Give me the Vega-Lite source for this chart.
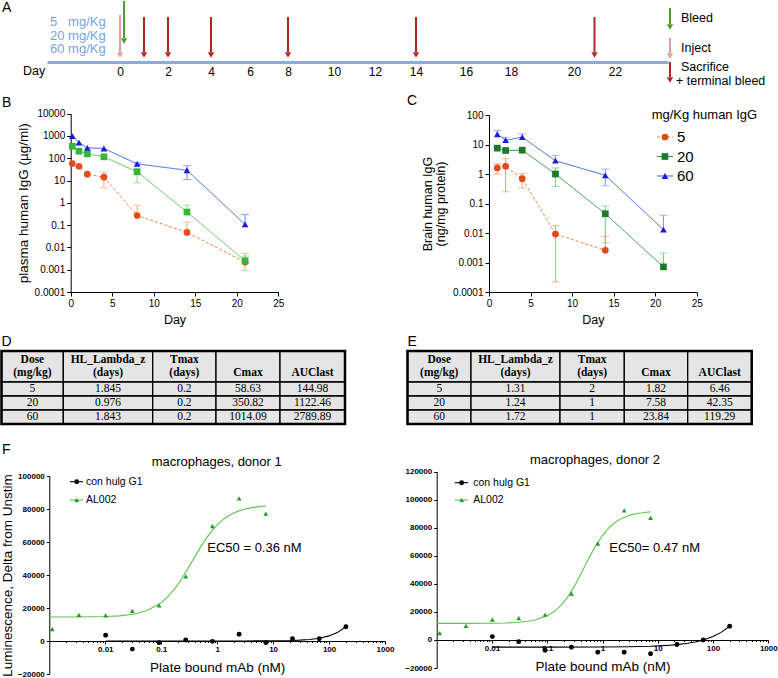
{
"$schema": "https://vega.github.io/schema/vega-lite/v6.json",
"padding": 0,
"background": "#ffffff",
"columns": 2,
"bounds": "flush",
"align": {"row": "each", "column": "none"},
"spacing": {"row": 10, "column": 0},
"resolve": {"scale": {"color": "independent", "fill": "independent", "stroke": "independent", "shape": "independent", "strokeDash": "independent"}},
"config": {
  "font": "Liberation Sans",
  "view": {"stroke": null},
  "axis": {"grid": false, "domainColor": "#000000", "tickColor": "#000000", "labelColor": "#000000", "titleColor": "#000000", "titleFontWeight": "normal", "labelFlush": false, "labelOverlap": false, "domainWidth": 1, "tickWidth": 1, "tickCount": 100},
  "title": {"fontWeight": "normal", "fontSize": 13, "color": "#000000"}
},
"datasets": {
  "sacrifice": [{"day":1},{"day":2},{"day":4},{"day":8},{"day":14},{"day":21}],
  "inject": [{"event":"Inject","day":0}],
  "bleed": [{"event":"Bleed","day":0}],
  "plasma": [
    {"dose":"5","day":0.2,"mean":57.5},{"dose":"5","day":1,"mean":43.6},{"dose":"5","day":2,"mean":19.3},{"dose":"5","day":4,"mean":14.1},{"dose":"5","day":8,"mean":0.27},{"dose":"5","day":14,"mean":0.047},{"dose":"5","day":21,"mean":0.0022},
    {"dose":"20","day":0.2,"mean":342},{"dose":"20","day":1,"mean":207},{"dose":"20","day":2,"mean":157},{"dose":"20","day":4,"mean":115},{"dose":"20","day":8,"mean":24.6},{"dose":"20","day":14,"mean":0.385},{"dose":"20","day":21,"mean":0.0025},
    {"dose":"60","day":0.2,"mean":980},{"dose":"60","day":1,"mean":500},{"dose":"60","day":2,"mean":292},{"dose":"60","day":4,"mean":273},{"dose":"60","day":8,"mean":55.5},{"dose":"60","day":14,"mean":28.8},{"dose":"60","day":21,"mean":0.107}
  ],
  "plasmaErr": [
    {"dose":"5","day":4,"from":14.1,"to":23.8},{"dose":"5","day":4,"from":14.1,"to":4.7},{"dose":"5","day":8,"from":0.27,"to":0.78},{"dose":"5","day":14,"from":0.047,"to":0.136},{"dose":"5","day":21,"from":0.0022,"to":0.0054},
    {"dose":"20","day":8,"from":24.6,"to":36},{"dose":"20","day":8,"from":24.6,"to":7.9},{"dose":"20","day":14,"from":0.385,"to":0.79},{"dose":"20","day":21,"from":0.0025,"to":0.0041},{"dose":"20","day":21,"from":0.0025,"to":0.0009},
    {"dose":"60","day":8,"from":55.5,"to":64},{"dose":"60","day":14,"from":28.8,"to":46.6},{"dose":"60","day":14,"from":28.8,"to":11.1},{"dose":"60","day":21,"from":0.107,"to":0.30}
  ],
  "brain": [
    {"dose":"5","day":1,"mean":1.6},{"dose":"5","day":2,"mean":1.82},{"dose":"5","day":4,"mean":0.695},{"dose":"5","day":8,"mean":0.0092},{"dose":"5","day":14,"mean":0.0026},
    {"dose":"20","day":1,"mean":7.52},{"dose":"20","day":2,"mean":6.27},{"dose":"20","day":4,"mean":6.43},{"dose":"20","day":8,"mean":1.0},{"dose":"20","day":14,"mean":0.0448},{"dose":"20","day":21,"mean":0.00071},
    {"dose":"60","day":1,"mean":22.3},{"dose":"60","day":2,"mean":14.0},{"dose":"60","day":4,"mean":17.7},{"dose":"60","day":8,"mean":2.82},{"dose":"60","day":14,"mean":0.90},{"dose":"60","day":21,"mean":0.013}
  ],
  "brainErr": [
    {"dose":"5","day":1,"from":1.6,"to":2.24},{"dose":"5","day":1,"from":1.6,"to":1.0},{"dose":"5","day":2,"from":1.82,"to":3.3},{"dose":"5","day":2,"from":1.82,"to":0.25},{"dose":"5","day":4,"from":0.695,"to":1.03},{"dose":"5","day":4,"from":0.695,"to":0.336},{"dose":"5","day":8,"from":0.0092,"to":0.018},{"dose":"5","day":8,"from":0.0092,"to":0.00022},{"dose":"5","day":14,"from":0.0026,"to":0.0077},
    {"dose":"20","day":1,"from":7.52,"to":8.7},{"dose":"20","day":8,"from":1.0,"to":1.6},{"dose":"20","day":8,"from":1.0,"to":0.38},{"dose":"20","day":14,"from":0.0448,"to":0.083},{"dose":"20","day":14,"from":0.0448,"to":0.0046},{"dose":"20","day":21,"from":0.00071,"to":0.0021},
    {"dose":"60","day":1,"from":22.3,"to":29.7},{"dose":"60","day":2,"from":14.0,"to":17.7},{"dose":"60","day":4,"from":17.7,"to":22.9},{"dose":"60","day":8,"from":2.82,"to":4.28},{"dose":"60","day":14,"from":0.90,"to":1.48},{"dose":"60","day":14,"from":0.90,"to":0.40},{"dose":"60","day":21,"from":0.013,"to":0.040}
  ],
  "doseLegend": [{"dose":"5"},{"dose":"20"},{"dose":"60"}],
  "tableD": [
    {"r":0,"r2":1,"rm":0.5,"c":0,"c2":1,"cm":0.5,"t":"Dose\n(mg/kg)"},{"r":0,"r2":1,"rm":0.5,"c":1,"c2":2,"cm":1.5,"t":"HL_Lambda_z\n(days)"},{"r":0,"r2":1,"rm":0.5,"c":2,"c2":3,"cm":2.5,"t":"Tmax\n(days)"},{"r":0,"r2":1,"rm":0.5,"c":3,"c2":4,"cm":3.5,"t":"\nCmax"},{"r":0,"r2":1,"rm":0.5,"c":4,"c2":5,"cm":4.5,"t":"\nAUClast"},
    {"r":1,"r2":2,"rm":1.5,"c":0,"c2":1,"cm":0.5,"t":"5"},{"r":1,"r2":2,"rm":1.5,"c":1,"c2":2,"cm":1.5,"t":"1.845"},{"r":1,"r2":2,"rm":1.5,"c":2,"c2":3,"cm":2.5,"t":"0.2"},{"r":1,"r2":2,"rm":1.5,"c":3,"c2":4,"cm":3.5,"t":"58.63"},{"r":1,"r2":2,"rm":1.5,"c":4,"c2":5,"cm":4.5,"t":"144.98"},
    {"r":2,"r2":3,"rm":2.5,"c":0,"c2":1,"cm":0.5,"t":"20"},{"r":2,"r2":3,"rm":2.5,"c":1,"c2":2,"cm":1.5,"t":"0.976"},{"r":2,"r2":3,"rm":2.5,"c":2,"c2":3,"cm":2.5,"t":"0.2"},{"r":2,"r2":3,"rm":2.5,"c":3,"c2":4,"cm":3.5,"t":"350.82"},{"r":2,"r2":3,"rm":2.5,"c":4,"c2":5,"cm":4.5,"t":"1122.46"},
    {"r":3,"r2":4,"rm":3.5,"c":0,"c2":1,"cm":0.5,"t":"60"},{"r":3,"r2":4,"rm":3.5,"c":1,"c2":2,"cm":1.5,"t":"1.843"},{"r":3,"r2":4,"rm":3.5,"c":2,"c2":3,"cm":2.5,"t":"0.2"},{"r":3,"r2":4,"rm":3.5,"c":3,"c2":4,"cm":3.5,"t":"1014.09"},{"r":3,"r2":4,"rm":3.5,"c":4,"c2":5,"cm":4.5,"t":"2789.89"}
  ],
  "tableE": [
    {"r":0,"r2":1,"rm":0.5,"c":0,"c2":1,"cm":0.5,"t":"Dose\n(mg/kg)"},{"r":0,"r2":1,"rm":0.5,"c":1,"c2":2,"cm":1.5,"t":"HL_Lambda_z\n(days)"},{"r":0,"r2":1,"rm":0.5,"c":2,"c2":3,"cm":2.5,"t":"Tmax\n(days)"},{"r":0,"r2":1,"rm":0.5,"c":3,"c2":4,"cm":3.5,"t":"\nCmax"},{"r":0,"r2":1,"rm":0.5,"c":4,"c2":5,"cm":4.5,"t":"\nAUClast"},
    {"r":1,"r2":2,"rm":1.5,"c":0,"c2":1,"cm":0.5,"t":"5"},{"r":1,"r2":2,"rm":1.5,"c":1,"c2":2,"cm":1.5,"t":"1.31"},{"r":1,"r2":2,"rm":1.5,"c":2,"c2":3,"cm":2.5,"t":"2"},{"r":1,"r2":2,"rm":1.5,"c":3,"c2":4,"cm":3.5,"t":"1.82"},{"r":1,"r2":2,"rm":1.5,"c":4,"c2":5,"cm":4.5,"t":"6.46"},
    {"r":2,"r2":3,"rm":2.5,"c":0,"c2":1,"cm":0.5,"t":"20"},{"r":2,"r2":3,"rm":2.5,"c":1,"c2":2,"cm":1.5,"t":"1.24"},{"r":2,"r2":3,"rm":2.5,"c":2,"c2":3,"cm":2.5,"t":"1"},{"r":2,"r2":3,"rm":2.5,"c":3,"c2":4,"cm":3.5,"t":"7.58"},{"r":2,"r2":3,"rm":2.5,"c":4,"c2":5,"cm":4.5,"t":"42.35"},
    {"r":3,"r2":4,"rm":3.5,"c":0,"c2":1,"cm":0.5,"t":"60"},{"r":3,"r2":4,"rm":3.5,"c":1,"c2":2,"cm":1.5,"t":"1.72"},{"r":3,"r2":4,"rm":3.5,"c":2,"c2":3,"cm":2.5,"t":"1"},{"r":3,"r2":4,"rm":3.5,"c":3,"c2":4,"cm":3.5,"t":"23.84"},{"r":3,"r2":4,"rm":3.5,"c":4,"c2":5,"cm":4.5,"t":"119.29"}
  ],
  "seriesLegend": [{"series":"con hulg G1"},{"series":"AL002"}],
  "f1pts": [
    {"series":"AL002","conc":0.001129,"lum":7200},{"series":"AL002","conc":0.003387,"lum":15800},{"series":"AL002","conc":0.01016,"lum":15600},{"series":"AL002","conc":0.03048,"lum":18300},{"series":"AL002","conc":0.09145,"lum":21600},{"series":"AL002","conc":0.2743,"lum":39200},{"series":"AL002","conc":0.823,"lum":69600},{"series":"AL002","conc":2.469,"lum":86400},{"series":"AL002","conc":7.407,"lum":77200},
    {"series":"con hulg G1","conc":0.01016,"lum":3500},{"series":"con hulg G1","conc":0.03048,"lum":-4900},{"series":"con hulg G1","conc":0.09145,"lum":-1000},{"series":"con hulg G1","conc":0.2743,"lum":600},{"series":"con hulg G1","conc":0.823,"lum":-200},{"series":"con hulg G1","conc":2.469,"lum":4100},{"series":"con hulg G1","conc":7.407,"lum":-1000},{"series":"con hulg G1","conc":22.22,"lum":1400},{"series":"con hulg G1","conc":66.67,"lum":1400},{"series":"con hulg G1","conc":200,"lum":8600}
  ],
  "f1fit": [
    {"series":"AL002","conc":0.001,"lum":14510},{"series":"AL002","conc":0.003162,"lum":14556},{"series":"AL002","conc":0.01,"lum":14813},{"series":"AL002","conc":0.01778,"lum":15238},{"series":"AL002","conc":0.03162,"lum":16226},{"series":"AL002","conc":0.05623,"lum":18453},{"series":"AL002","conc":0.1,"lum":23184},{"series":"AL002","conc":0.1334,"lum":27005},{"series":"AL002","conc":0.1778,"lum":32024},{"series":"AL002","conc":0.2371,"lum":38191},{"series":"AL002","conc":0.3162,"lum":45209},{"series":"AL002","conc":0.4217,"lum":52512},{"series":"AL002","conc":0.5623,"lum":59468},{"series":"AL002","conc":0.7499,"lum":65527},{"series":"AL002","conc":1,"lum":70423},{"series":"AL002","conc":1.3335,"lum":74136},{"series":"AL002","conc":1.7783,"lum":76822},{"series":"AL002","conc":2.3714,"lum":78706},{"series":"AL002","conc":3.1623,"lum":79984},{"series":"AL002","conc":4.217,"lum":80848},{"series":"AL002","conc":5.6234,"lum":81419},{"series":"AL002","conc":7.413,"lum":81779},
    {"series":"con hulg G1","conc":0.01016,"lum":0},{"series":"con hulg G1","conc":0.1,"lum":0},{"series":"con hulg G1","conc":1,"lum":3},{"series":"con hulg G1","conc":3,"lum":17},{"series":"con hulg G1","conc":10,"lum":102},{"series":"con hulg G1","conc":20,"lum":283},{"series":"con hulg G1","conc":30,"lum":521},{"series":"con hulg G1","conc":45,"lum":951},{"series":"con hulg G1","conc":66.67,"lum":1709},{"series":"con hulg G1","conc":100,"lum":3087},{"series":"con hulg G1","conc":140,"lum":5084},{"series":"con hulg G1","conc":200,"lum":8600}
  ],
  "f2pts": [
    {"series":"AL002","conc":0.001129,"lum":4800},{"series":"AL002","conc":0.003387,"lum":10000},{"series":"AL002","conc":0.01016,"lum":14500},{"series":"AL002","conc":0.03048,"lum":15500},{"series":"AL002","conc":0.09145,"lum":18100},{"series":"AL002","conc":0.2743,"lum":33100},{"series":"AL002","conc":0.823,"lum":68600},{"series":"AL002","conc":2.469,"lum":92400},{"series":"AL002","conc":7.407,"lum":87100},
    {"series":"con hulg G1","conc":0.01016,"lum":2400},{"series":"con hulg G1","conc":0.03048,"lum":-1200},{"series":"con hulg G1","conc":0.09145,"lum":-7400},{"series":"con hulg G1","conc":0.2743,"lum":-5200},{"series":"con hulg G1","conc":0.823,"lum":-8800},{"series":"con hulg G1","conc":2.469,"lum":-8800},{"series":"con hulg G1","conc":7.407,"lum":-9800},{"series":"con hulg G1","conc":22.22,"lum":-3300},{"series":"con hulg G1","conc":66.67,"lum":0},{"series":"con hulg G1","conc":200,"lum":9800}
  ],
  "f2fit": [
    {"series":"AL002","conc":0.001,"lum":11802},{"series":"AL002","conc":0.003162,"lum":11816},{"series":"AL002","conc":0.01,"lum":11915},{"series":"AL002","conc":0.01778,"lum":12105},{"series":"AL002","conc":0.03162,"lum":12608},{"series":"AL002","conc":0.05623,"lum":13914},{"series":"AL002","conc":0.1,"lum":17188},{"series":"AL002","conc":0.1334,"lum":20231},{"series":"AL002","conc":0.1778,"lum":24697},{"series":"AL002","conc":0.2371,"lum":30897},{"series":"AL002","conc":0.3162,"lum":38883},{"series":"AL002","conc":0.4217,"lum":48213},{"series":"AL002","conc":0.5623,"lum":57971},{"series":"AL002","conc":0.7499,"lum":67042},{"series":"AL002","conc":1,"lum":74605},{"series":"AL002","conc":1.3335,"lum":80355},{"series":"AL002","conc":1.7783,"lum":84437},{"series":"AL002","conc":2.3714,"lum":87188},{"series":"AL002","conc":3.1623,"lum":88977},{"series":"AL002","conc":4.217,"lum":90123},{"series":"AL002","conc":5.6234,"lum":90837},{"series":"AL002","conc":7.413,"lum":91270},
    {"series":"con hulg G1","conc":0.01016,"lum":-5100},{"series":"con hulg G1","conc":0.1,"lum":-5092},{"series":"con hulg G1","conc":1,"lum":-5015},{"series":"con hulg G1","conc":3,"lum":-4852},{"series":"con hulg G1","conc":7.4,"lum":-4502},{"series":"con hulg G1","conc":15,"lum":-3907},{"series":"con hulg G1","conc":22.22,"lum":-3350},{"series":"con hulg G1","conc":35,"lum":-2380},{"series":"con hulg G1","conc":50,"lum":-1258},{"series":"con hulg G1","conc":66.67,"lum":0},{"series":"con hulg G1","conc":100,"lum":2473},{"series":"con hulg G1","conc":140,"lum":5380},{"series":"con hulg G1","conc":200,"lum":9800}
  ]
},
"concat": [
  {
    "width": 407, "height": 104,
    "data": {"name": "sacrifice"},
    "layer": [
      {"mark": {"type": "rule", "color": "#b0281c", "strokeWidth": 2},
       "encoding": {
         "x": {"field": "day", "type": "quantitative", "scale": {"domain": [-3.04,0,2,4,6,8,10,12,14,16,18,20,22,24.59], "range": [47,120,168,211,250,288,334,375,416,466,511,574,615,668], "nice": false, "zero": false},
               "axis": {"orient": "bottom", "offset": -42, "values": [0,2,4,6,8,10,12,14,16,18,20,22], "format": "d", "tickCount": 100, "domainColor": "#8eaadb", "domainWidth": 3, "ticks": false, "labelFontSize": 12, "labelPadding": 4, "title": null}},
         "y": {"datum": 17, "type": "quantitative", "scale": {"domain": [0,104], "reverse": true, "nice": false, "zero": false}, "axis": null},
         "y2": {"datum": 52}}},
      {"mark": {"type": "point", "shape": "triangle-down", "filled": true, "color": "#b0281c", "size": 40, "opacity": 1},
       "encoding": {
         "x": {"field": "day", "type": "quantitative", "scale": {"domain": [-3.04,0,2,4,6,8,10,12,14,16,18,20,22,24.59], "range": [47,120,168,211,250,288,334,375,416,466,511,574,615,668], "nice": false, "zero": false}},
         "y": {"datum": 55, "type": "quantitative", "scale": {"domain": [0,104], "reverse": true, "nice": false, "zero": false}}}},
      {"data": {"name": "inject"}, "mark": {"type": "rule", "color": "#dca0a7", "strokeWidth": 2},
       "encoding": {
         "x": {"field": "day", "type": "quantitative", "scale": {"domain": [-3.04,0,2,4,6,8,10,12,14,16,18,20,22,24.59], "range": [47,120,168,211,250,288,334,375,416,466,511,574,615,668], "nice": false, "zero": false}},
         "y": {"datum": 15, "type": "quantitative", "scale": {"domain": [0,104], "reverse": true, "nice": false, "zero": false}},
         "y2": {"datum": 52}}},
      {"data": {"name": "inject"}, "mark": {"type": "point", "shape": "triangle-down", "filled": true, "color": "#dca0a7", "size": 40, "opacity": 1},
       "encoding": {
         "x": {"field": "day", "type": "quantitative", "scale": {"domain": [-3.04,0,2,4,6,8,10,12,14,16,18,20,22,24.59], "range": [47,120,168,211,250,288,334,375,416,466,511,574,615,668], "nice": false, "zero": false}},
         "y": {"datum": 55, "type": "quantitative", "scale": {"domain": [0,104], "reverse": true, "nice": false, "zero": false}}}},
      {"data": {"name": "bleed"}, "mark": {"type": "rule", "color": "#4e9a2b", "strokeWidth": 2},
       "encoding": {
         "x": {"datum": 0.17, "type": "quantitative", "scale": {"domain": [-3.04,0,2,4,6,8,10,12,14,16,18,20,22,24.59], "range": [47,120,168,211,250,288,334,375,416,466,511,574,615,668], "nice": false, "zero": false}},
         "y": {"datum": 1, "type": "quantitative", "scale": {"domain": [0,104], "reverse": true, "nice": false, "zero": false}},
         "y2": {"datum": 38}}},
      {"data": {"name": "bleed"}, "mark": {"type": "point", "shape": "triangle-down", "filled": true, "color": "#4e9a2b", "size": 40, "opacity": 1},
       "encoding": {
         "x": {"datum": 0.17, "type": "quantitative", "scale": {"domain": [-3.04,0,2,4,6,8,10,12,14,16,18,20,22,24.59], "range": [47,120,168,211,250,288,334,375,416,466,511,574,615,668], "nice": false, "zero": false}},
         "y": {"datum": 41, "type": "quantitative", "scale": {"domain": [0,104], "reverse": true, "nice": false, "zero": false}}}},
      {"data": {"values": [{}]}, "mark": {"type": "text", "align": "left", "baseline": "middle", "fontSize": 13, "color": "#7c9fe2", "lineHeight": 13.5},
       "encoding": {
         "x": {"datum": -2.915, "type": "quantitative", "scale": {"domain": [-3.04,0,2,4,6,8,10,12,14,16,18,20,22,24.59], "range": [47,120,168,211,250,288,334,375,416,466,511,574,615,668], "nice": false, "zero": false}},
         "y": {"datum": 22, "type": "quantitative", "scale": {"domain": [0,104], "reverse": true, "nice": false, "zero": false}},
         "text": {"value": ["5\u00a0\u00a0\u00a0mg/Kg", "20 mg/Kg", "60 mg/Kg"]}}},
      {"data": {"values": [{}]}, "mark": {"type": "text", "align": "left", "baseline": "middle", "fontSize": 12.5, "text": "Day"},
       "encoding": {
         "x": {"datum": -4.04, "type": "quantitative", "scale": {"domain": [-3.04,0,2,4,6,8,10,12,14,16,18,20,22,24.59], "range": [47,120,168,211,250,288,334,375,416,466,511,574,615,668], "nice": false, "zero": false}},
         "y": {"datum": 71, "type": "quantitative", "scale": {"domain": [0,104], "reverse": true, "nice": false, "zero": false}}}},
      {"data": {"values": [{}]}, "mark": {"type": "text", "align": "left", "baseline": "middle", "fontSize": 14, "text": "A"},
       "encoding": {
         "x": {"datum": -4.915, "type": "quantitative", "scale": {"domain": [-3.04,0,2,4,6,8,10,12,14,16,18,20,22,24.59], "range": [47,120,168,211,250,288,334,375,416,466,511,574,615,668], "nice": false, "zero": false}},
         "y": {"datum": 7.5, "type": "quantitative", "scale": {"domain": [0,104], "reverse": true, "nice": false, "zero": false}}}}
    ]
  },
  {
    "width": 371, "height": 104,
    "data": {"values": [{}]},
    "layer": [
      {"mark": {"type": "rule", "color": "#4e9a2b", "strokeWidth": 2},
       "encoding": {"x": {"datum": 0.7089, "type": "quantitative", "scale": {"domain": [0,1], "nice": false, "zero": false}, "axis": null}, "y": {"datum": 8, "type": "quantitative", "scale": {"domain": [0,104], "reverse": true, "nice": false, "zero": false}, "axis": null}, "y2": {"datum": 24}}},
      {"mark": {"type": "point", "shape": "triangle-down", "filled": true, "color": "#4e9a2b", "size": 40, "opacity": 1},
       "encoding": {"x": {"datum": 0.7089, "type": "quantitative", "scale": {"domain": [0,1], "nice": false, "zero": false}}, "y": {"datum": 27, "type": "quantitative", "scale": {"domain": [0,104], "reverse": true, "nice": false, "zero": false}}}},
      {"mark": {"type": "rule", "color": "#dca0a7", "strokeWidth": 2},
       "encoding": {"x": {"datum": 0.7089, "type": "quantitative", "scale": {"domain": [0,1], "nice": false, "zero": false}}, "y": {"datum": 38, "type": "quantitative", "scale": {"domain": [0,104], "reverse": true, "nice": false, "zero": false}}, "y2": {"datum": 53}}},
      {"mark": {"type": "point", "shape": "triangle-down", "filled": true, "color": "#dca0a7", "size": 40, "opacity": 1},
       "encoding": {"x": {"datum": 0.7089, "type": "quantitative", "scale": {"domain": [0,1], "nice": false, "zero": false}}, "y": {"datum": 56, "type": "quantitative", "scale": {"domain": [0,104], "reverse": true, "nice": false, "zero": false}}}},
      {"mark": {"type": "rule", "color": "#b0281c", "strokeWidth": 2},
       "encoding": {"x": {"datum": 0.7089, "type": "quantitative", "scale": {"domain": [0,1], "nice": false, "zero": false}}, "y": {"datum": 62, "type": "quantitative", "scale": {"domain": [0,104], "reverse": true, "nice": false, "zero": false}}, "y2": {"datum": 77}}},
      {"mark": {"type": "point", "shape": "triangle-down", "filled": true, "color": "#b0281c", "size": 40, "opacity": 1},
       "encoding": {"x": {"datum": 0.7089, "type": "quantitative", "scale": {"domain": [0,1], "nice": false, "zero": false}}, "y": {"datum": 80, "type": "quantitative", "scale": {"domain": [0,104], "reverse": true, "nice": false, "zero": false}}}},
      {"mark": {"type": "text", "align": "left", "baseline": "middle", "fontSize": 12.5, "text": "Bleed"},
       "encoding": {"x": {"datum": 0.7385, "type": "quantitative", "scale": {"domain": [0,1], "nice": false, "zero": false}}, "y": {"datum": 18, "type": "quantitative", "scale": {"domain": [0,104], "reverse": true, "nice": false, "zero": false}}}},
      {"mark": {"type": "text", "align": "left", "baseline": "middle", "fontSize": 12.5, "text": "Inject"},
       "encoding": {"x": {"datum": 0.7385, "type": "quantitative", "scale": {"domain": [0,1], "nice": false, "zero": false}}, "y": {"datum": 48, "type": "quantitative", "scale": {"domain": [0,104], "reverse": true, "nice": false, "zero": false}}}},
      {"mark": {"type": "text", "align": "left", "baseline": "middle", "fontSize": 12.5, "text": "Sacrifice"},
       "encoding": {"x": {"datum": 0.7385, "type": "quantitative", "scale": {"domain": [0,1], "nice": false, "zero": false}}, "y": {"datum": 66.5, "type": "quantitative", "scale": {"domain": [0,104], "reverse": true, "nice": false, "zero": false}}}},
      {"mark": {"type": "text", "align": "left", "baseline": "middle", "fontSize": 12.5, "text": "+ terminal bleed"},
       "encoding": {"x": {"datum": 0.7251, "type": "quantitative", "scale": {"domain": [0,1], "nice": false, "zero": false}}, "y": {"datum": 80.5, "type": "quantitative", "scale": {"domain": [0,104], "reverse": true, "nice": false, "zero": false}}}}
    ]
  },
  {
    "width": 407, "height": 178,
    "layer": [
      {"data": {"name": "plasmaErr"}, "mark": {"type": "rule", "strokeWidth": 1},
       "encoding": {
         "x": {"field": "day", "type": "quantitative", "scale": {"domain": [0,25], "range": [70.7,278.3], "nice": false, "zero": false}},
         "y": {"field": "from", "type": "quantitative", "scale": {"type": "log", "domain": [0.0001,10000], "range": [178,-0.4], "nice": false}},
         "y2": {"field": "to"},
         "color": {"field": "dose", "type": "nominal", "scale": {"domain": ["5","20","60"], "range": ["#f4a677","#86d486","#6a86ee"]}, "legend": null}}},
      {"data": {"name": "plasmaErr"}, "mark": {"type": "tick", "orient": "horizontal", "size": 8, "thickness": 1},
       "encoding": {
         "x": {"field": "day", "type": "quantitative", "scale": {"domain": [0,25], "range": [70.7,278.3], "nice": false, "zero": false}},
         "y": {"field": "to", "type": "quantitative", "scale": {"type": "log", "domain": [0.0001,10000], "range": [178,-0.4], "nice": false}},
         "color": {"field": "dose", "type": "nominal", "scale": {"domain": ["5","20","60"], "range": ["#f4a677","#86d486","#6a86ee"]}, "legend": null}}},
      {"data": {"name": "plasma"}, "mark": {"type": "line", "strokeWidth": 1},
       "encoding": {
         "x": {"field": "day", "type": "quantitative", "scale": {"domain": [0,25], "range": [70.7,278.3], "nice": false, "zero": false},
               "axis": {"values": [0,5,10,15,20,25], "format": "d", "tickCount": 100, "title": "Day", "titleFontSize": 12.5, "titlePadding": 5, "labelFontSize": 10, "tickSize": 4, "labelPadding": 2}},
         "y": {"field": "mean", "type": "quantitative", "scale": {"type": "log", "domain": [0.0001,10000], "range": [178,-0.4], "nice": false},
               "axis": {"orient": "left", "offset": -70.7, "values": [0.0001,0.001,0.01,0.1,1,10,100,1000,10000], "tickCount": 100, "format": "~g", "title": "plasma human IgG (\u00b5g/ml)", "titleFontSize": 13.5, "titlePadding": 4, "labelFontSize": 10, "tickSize": 4, "labelPadding": 2}},
         "stroke": {"field": "dose", "type": "nominal", "scale": {"domain": ["5","20","60"], "range": ["#f08640","#58c658","#3a60ea"]}, "legend": null},
         "strokeDash": {"field": "dose", "type": "nominal", "scale": {"domain": ["5","20","60"], "range": [[3,2],[1,0],[1,0]]}, "legend": null}}},
      {"data": {"name": "plasma"}, "mark": {"type": "point", "filled": true, "opacity": 1, "size": 45},
       "encoding": {
         "x": {"field": "day", "type": "quantitative", "scale": {"domain": [0,25], "range": [70.7,278.3], "nice": false, "zero": false}},
         "y": {"field": "mean", "type": "quantitative", "scale": {"type": "log", "domain": [0.0001,10000], "range": [178,-0.4], "nice": false}},
         "shape": {"field": "dose", "type": "nominal", "scale": {"domain": ["5","20","60"], "range": ["circle","square","triangle-up"]}, "legend": null},
         "fill": {"field": "dose", "type": "nominal", "scale": {"domain": ["5","20","60"], "range": ["#e44c1a","#36b536","#1717d8"]}, "legend": null}}},
      {"data": {"values": [{}]}, "mark": {"type": "text", "text": "B", "fontSize": 14, "align": "left", "baseline": "middle"},
       "encoding": {
         "x": {"datum": -8.27, "type": "quantitative", "scale": {"domain": [0,25], "range": [70.7,278.3], "nice": false, "zero": false}},
         "y": {"datum": 31200, "type": "quantitative", "scale": {"type": "log", "domain": [0.0001,10000], "range": [178,-0.4], "nice": false}}}}
    ]
  },
  {
    "width": 290.7, "height": 178,
    "resolve": {"scale": {"y": "independent"}},
    "layer": [
      {"layer": [
        {"data": {"name": "brainErr"}, "mark": {"type": "rule", "strokeWidth": 1},
         "encoding": {
           "x": {"field": "day", "type": "quantitative", "scale": {"domain": [0,25], "range": [82,289.7], "nice": false, "zero": false}},
           "y": {"field": "from", "type": "quantitative", "scale": {"type": "log", "domain": [0.0001,100], "range": [178,1], "nice": false}},
           "y2": {"field": "to"},
           "color": {"field": "dose", "type": "nominal", "scale": {"domain": ["5","20","60"], "range": ["#f2a070","#7fc488","#7f95ef"]}, "legend": null}}},
        {"data": {"name": "brainErr"}, "mark": {"type": "tick", "orient": "horizontal", "size": 8, "thickness": 1},
         "encoding": {
           "x": {"field": "day", "type": "quantitative", "scale": {"domain": [0,25], "range": [82,289.7], "nice": false, "zero": false}},
           "y": {"field": "to", "type": "quantitative", "scale": {"type": "log", "domain": [0.0001,100], "range": [178,1], "nice": false}},
           "color": {"field": "dose", "type": "nominal", "scale": {"domain": ["5","20","60"], "range": ["#f2a070","#7fc488","#7f95ef"]}, "legend": null}}},
        {"data": {"name": "brain"}, "mark": {"type": "line", "strokeWidth": 1},
         "encoding": {
           "x": {"field": "day", "type": "quantitative", "scale": {"domain": [0,25], "range": [82,289.7], "nice": false, "zero": false},
                 "axis": {"values": [0,5,10,15,20,25], "format": "d", "tickCount": 100, "title": "Day", "titleFontSize": 12.5, "titlePadding": 5, "labelFontSize": 10, "tickSize": 4, "labelPadding": 2}},
           "y": {"field": "mean", "type": "quantitative", "scale": {"type": "log", "domain": [0.0001,100], "range": [178,1], "nice": false},
                 "axis": {"orient": "left", "offset": -82, "values": [0.0001,0.001,0.01,0.1,1,10,100], "tickCount": 100, "format": "~g", "title": ["Brain human IgG", "(ng/mg protein)"], "titleFontSize": 12.5, "titleLineHeight": 13, "titlePadding": 5, "labelFontSize": 10, "tickSize": 4, "labelPadding": 2}},
           "stroke": {"field": "dose", "type": "nominal", "scale": {"domain": ["5","20","60"], "range": ["#f08640","#2b983b","#3d5fe8"]}, "legend": null},
           "strokeDash": {"field": "dose", "type": "nominal", "scale": {"domain": ["5","20","60"], "range": [[3,2],[1,0],[1,0]]}, "legend": null}}},
        {"data": {"name": "brain"}, "mark": {"type": "point", "filled": true, "opacity": 1, "size": 45},
         "encoding": {
           "x": {"field": "day", "type": "quantitative", "scale": {"domain": [0,25], "range": [82,289.7], "nice": false, "zero": false}},
           "y": {"field": "mean", "type": "quantitative", "scale": {"type": "log", "domain": [0.0001,100], "range": [178,1], "nice": false}},
           "shape": {"field": "dose", "type": "nominal", "scale": {"domain": ["5","20","60"], "range": ["circle","square","triangle-up"]}, "legend": null},
           "fill": {"field": "dose", "type": "nominal", "scale": {"domain": ["5","20","60"], "range": ["#e3481a","#1b7a26","#1c1cde"]}, "legend": null}}},
        {"data": {"values": [{}]}, "mark": {"type": "text", "text": "C", "fontSize": 14, "align": "left", "baseline": "middle"},
         "encoding": {
           "x": {"datum": -9.87, "type": "quantitative", "scale": {"domain": [0,25], "range": [82,289.7], "nice": false, "zero": false}},
           "y": {"datum": 298, "type": "quantitative", "scale": {"type": "log", "domain": [0.0001,100], "range": [178,1], "nice": false}}}},
        {"data": {"values": [{}]}, "mark": {"type": "text", "text": "mg/Kg human IgG", "fontSize": 13, "align": "left", "baseline": "middle"},
         "encoding": {
           "x": {"datum": 19.58, "type": "quantitative", "scale": {"domain": [0,25], "range": [82,289.7], "nice": false, "zero": false}},
           "y": {"datum": 100, "type": "quantitative", "scale": {"type": "log", "domain": [0.0001,100], "range": [178,1], "nice": false}}}}
      ]},
      {"data": {"name": "doseLegend"},
       "layer": [
        {"mark": {"type": "rule", "strokeWidth": 1},
         "encoding": {
           "x": {"datum": 20.22, "type": "quantitative", "scale": {"domain": [0,25], "range": [82,289.7], "nice": false, "zero": false}},
           "x2": {"datum": 22.15},
           "y": {"field": "dose", "type": "nominal", "scale": {"type": "point", "domain": ["5","20","60"], "range": [23,62], "padding": 0}, "axis": null},
           "stroke": {"field": "dose", "type": "nominal", "scale": {"domain": ["5","20","60"], "range": ["#f08640","#2b983b","#3d5fe8"]}, "legend": null},
           "strokeDash": {"field": "dose", "type": "nominal", "scale": {"domain": ["5","20","60"], "range": [[3,2],[1,0],[1,0]]}, "legend": null}}},
        {"mark": {"type": "point", "filled": true, "opacity": 1, "size": 45},
         "encoding": {
           "x": {"datum": 21.18, "type": "quantitative", "scale": {"domain": [0,25], "range": [82,289.7], "nice": false, "zero": false}},
           "y": {"field": "dose", "type": "nominal", "scale": {"type": "point", "domain": ["5","20","60"], "range": [23,62], "padding": 0}, "axis": null},
           "shape": {"field": "dose", "type": "nominal", "scale": {"domain": ["5","20","60"], "range": ["circle","square","triangle-up"]}, "legend": null},
           "fill": {"field": "dose", "type": "nominal", "scale": {"domain": ["5","20","60"], "range": ["#e3481a","#1b7a26","#1c1cde"]}, "legend": null}}},
        {"mark": {"type": "text", "fontSize": 15, "align": "left", "baseline": "middle"},
         "encoding": {
           "x": {"datum": 22.63, "type": "quantitative", "scale": {"domain": [0,25], "range": [82,289.7], "nice": false, "zero": false}},
           "y": {"field": "dose", "type": "nominal", "scale": {"type": "point", "domain": ["5","20","60"], "range": [23,62], "padding": 0}, "axis": null},
           "text": {"field": "dose"}}}
       ]}
    ]
  },
  {
    "width": 407, "height": 160,
    "data": {"name": "tableD"},
    "layer": [
      {"mark": {"type": "rect", "fill": "#e5e5e5", "stroke": "#000000", "strokeWidth": 1.3},
       "encoding": {
         "x": {"field": "c", "type": "quantitative", "scale": {"domain": [0,1,2,3,4,5], "range": [1.5,63.3,152.7,216,280,345], "nice": false, "zero": false}, "axis": null},
         "x2": {"field": "c2"},
         "y": {"field": "r", "type": "quantitative", "scale": {"domain": [0,1,2,3,4], "range": [49,80,94,108,122], "nice": false, "zero": false}, "axis": null},
         "y2": {"field": "r2"}}},
      {"transform": [{"filter": "datum.r == 0"}],
       "mark": {"type": "text", "font": "Liberation Serif", "fontSize": 11.5, "fontWeight": "bold", "lineBreak": "\n", "lineHeight": 12.5, "baseline": "middle", "align": "center", "dy": -6.25},
       "encoding": {
         "x": {"field": "cm", "type": "quantitative", "scale": {"domain": [0,1,2,3,4,5], "range": [1.5,63.3,152.7,216,280,345], "nice": false, "zero": false}},
         "y": {"field": "rm", "type": "quantitative", "scale": {"domain": [0,1,2,3,4], "range": [49,80,94,108,122], "nice": false, "zero": false}},
         "text": {"field": "t"}}},
      {"transform": [{"filter": "datum.r > 0"}],
       "mark": {"type": "text", "font": "Liberation Serif", "fontSize": 11.5, "baseline": "middle", "align": "center"},
       "encoding": {
         "x": {"field": "cm", "type": "quantitative", "scale": {"domain": [0,1,2,3,4,5], "range": [1.5,63.3,152.7,216,280,345], "nice": false, "zero": false}},
         "y": {"field": "rm", "type": "quantitative", "scale": {"domain": [0,1,2,3,4], "range": [49,80,94,108,122], "nice": false, "zero": false}},
         "text": {"field": "t"}}},
      {"data": {"values": [{}]}, "mark": {"type": "rect", "filled": false, "color": "#000000", "strokeWidth": 2.5},
       "encoding": {
         "x": {"datum": 0, "type": "quantitative", "scale": {"domain": [0,1,2,3,4,5], "range": [1.5,63.3,152.7,216,280,345], "nice": false, "zero": false}},
         "x2": {"datum": 5},
         "y": {"datum": 0, "type": "quantitative", "scale": {"domain": [0,1,2,3,4], "range": [49,80,94,108,122], "nice": false, "zero": false}},
         "y2": {"datum": 4}}},
      {"data": {"values": [{}]}, "mark": {"type": "text", "text": "D", "fontSize": 14, "align": "left", "baseline": "middle"},
       "encoding": {
         "x": {"datum": 0, "type": "quantitative", "scale": {"domain": [0,1,2,3,4,5], "range": [1.5,63.3,152.7,216,280,345], "nice": false, "zero": false}},
         "y": {"datum": -0.29, "type": "quantitative", "scale": {"domain": [0,1,2,3,4], "range": [49,80,94,108,122], "nice": false, "zero": false}}}}
    ]
  },
  {
    "width": 345, "height": 160,
    "data": {"name": "tableE"},
    "layer": [
      {"mark": {"type": "rect", "fill": "#e5e5e5", "stroke": "#000000", "strokeWidth": 1.3},
       "encoding": {
         "x": {"field": "c", "type": "quantitative", "scale": {"domain": [0,1,2,3,4,5], "range": [0.5,64,153,217.3,280.7,344.7], "nice": false, "zero": false}, "axis": null},
         "x2": {"field": "c2"},
         "y": {"field": "r", "type": "quantitative", "scale": {"domain": [0,1,2,3,4], "range": [49,80,94,108,122], "nice": false, "zero": false}, "axis": null},
         "y2": {"field": "r2"}}},
      {"transform": [{"filter": "datum.r == 0"}],
       "mark": {"type": "text", "font": "Liberation Serif", "fontSize": 11.5, "fontWeight": "bold", "lineBreak": "\n", "lineHeight": 12.5, "baseline": "middle", "align": "center", "dy": -6.25},
       "encoding": {
         "x": {"field": "cm", "type": "quantitative", "scale": {"domain": [0,1,2,3,4,5], "range": [0.5,64,153,217.3,280.7,344.7], "nice": false, "zero": false}},
         "y": {"field": "rm", "type": "quantitative", "scale": {"domain": [0,1,2,3,4], "range": [49,80,94,108,122], "nice": false, "zero": false}},
         "text": {"field": "t"}}},
      {"transform": [{"filter": "datum.r > 0"}],
       "mark": {"type": "text", "font": "Liberation Serif", "fontSize": 11.5, "baseline": "middle", "align": "center"},
       "encoding": {
         "x": {"field": "cm", "type": "quantitative", "scale": {"domain": [0,1,2,3,4,5], "range": [0.5,64,153,217.3,280.7,344.7], "nice": false, "zero": false}},
         "y": {"field": "rm", "type": "quantitative", "scale": {"domain": [0,1,2,3,4], "range": [49,80,94,108,122], "nice": false, "zero": false}},
         "text": {"field": "t"}}},
      {"data": {"values": [{}]}, "mark": {"type": "rect", "filled": false, "color": "#000000", "strokeWidth": 2.5},
       "encoding": {
         "x": {"datum": 0, "type": "quantitative", "scale": {"domain": [0,1,2,3,4,5], "range": [0.5,64,153,217.3,280.7,344.7], "nice": false, "zero": false}},
         "x2": {"datum": 5},
         "y": {"datum": 0, "type": "quantitative", "scale": {"domain": [0,1,2,3,4], "range": [49,80,94,108,122], "nice": false, "zero": false}},
         "y2": {"datum": 4}}},
      {"data": {"values": [{}]}, "mark": {"type": "text", "text": "E", "fontSize": 14, "align": "left", "baseline": "middle"},
       "encoding": {
         "x": {"datum": 0, "type": "quantitative", "scale": {"domain": [0,1,2,3,4,5], "range": [0.5,64,153,217.3,280.7,344.7], "nice": false, "zero": false}},
         "y": {"datum": -0.29, "type": "quantitative", "scale": {"domain": [0,1,2,3,4], "range": [49,80,94,108,122], "nice": false, "zero": false}}}}
    ]
  },
  {
    "width": 407, "height": 169,
    "title": {"text": "macrophages, donor 1", "anchor": "middle", "frame": "group", "dx": 13.2, "offset": -26, "fontSize": 13},
    "resolve": {"scale": {"y": "independent"}, "axis": {"x": "independent"}},
    "layer": [
      {"layer": [
        {"data": {"name": "f1fit"}, "mark": {"type": "line", "strokeWidth": 1.1},
         "encoding": {
           "x": {"field": "conc", "type": "quantitative", "scale": {"type": "log", "domain": [0.001,1000], "range": [49.3,385], "nice": false},
                 "axis": {"orient": "bottom", "values": [0.01,0.1,1,10,100,1000], "tickCount": 100, "format": "~g", "labelFontSize": 8, "labelFontWeight": "bold", "tickSize": 3, "labelPadding": 1, "title": "Plate bound mAb (nM)", "titleFontSize": 13.5, "titlePadding": 7}},
           "y": {"field": "lum", "type": "quantitative", "scale": {"domain": [-20000,100000], "range": [202,4], "nice": false, "zero": false},
                 "axis": {"orient": "left", "offset": -49.3, "values": [-20000,0,20000,40000,60000,80000,100000], "tickCount": 100, "format": "d", "labelFontSize": 8, "labelFontWeight": "bold", "tickSize": 3, "labelPadding": 2, "title": "Luminescence, Delta from Unstim", "titleFontSize": 13.5, "titlePadding": 3}},
           "stroke": {"field": "series", "type": "nominal", "scale": {"domain": ["con hulg G1","AL002"], "range": ["#000000","#62c552"]}, "legend": null}}},
        {"data": {"name": "f1pts"}, "mark": {"type": "point", "filled": true, "opacity": 1, "size": 24},
         "encoding": {
           "x": {"field": "conc", "type": "quantitative", "scale": {"type": "log", "domain": [0.001,1000], "range": [49.3,385], "nice": false}},
           "y": {"field": "lum", "type": "quantitative", "scale": {"domain": [-20000,100000], "range": [202,4], "nice": false, "zero": false}},
           "shape": {"field": "series", "type": "nominal", "scale": {"domain": ["con hulg G1","AL002"], "range": ["circle","triangle-up"]}, "legend": null},
           "fill": {"field": "series", "type": "nominal", "scale": {"domain": ["con hulg G1","AL002"], "range": ["#000000","#1f9f1f"]}, "legend": null}}},
        {"data": {"values": [{}]}, "mark": {"type": "text", "text": "EC50 = 0.36 nM", "fontSize": 13, "align": "left", "baseline": "middle"},
         "encoding": {
           "x": {"datum": 0.667, "type": "quantitative", "scale": {"type": "log", "domain": [0.001,1000], "range": [49.3,385], "nice": false}},
           "y": {"datum": 56182, "type": "quantitative", "scale": {"domain": [-20000,100000], "range": [202,4], "nice": false, "zero": false}}}},
        {"data": {"values": [{}]}, "mark": {"type": "text", "text": "F", "fontSize": 14, "align": "left", "baseline": "middle"},
         "encoding": {
           "x": {"datum": 0.000143, "type": "quantitative", "scale": {"type": "log", "domain": [0.001,1000], "range": [49.3,385], "nice": false}},
           "y": {"datum": 115758, "type": "quantitative", "scale": {"domain": [-20000,100000], "range": [202,4], "nice": false, "zero": false}}}}
      ]},
      {"data": {"name": "seriesLegend"},
       "layer": [
        {"mark": {"type": "rule", "strokeWidth": 1.1},
         "encoding": {
           "x": {"datum": 0.00234, "type": "quantitative", "scale": {"type": "log", "domain": [0.001,1000], "range": [49.3,385], "nice": false},
                 "axis": {"orient": "bottom", "values": [0.002,0.003,0.004,0.005,0.006,0.007,0.008,0.009,0.02,0.03,0.04,0.05,0.06,0.07,0.08,0.09,0.2,0.3,0.4,0.5,0.6,0.7,0.8,0.9,2,3,4,5,6,7,8,9,20,30,40,50,60,70,80,90,200,300,400,500,600,700,800,900], "tickCount": 100, "labels": false, "domain": false, "tickSize": 1.5, "title": null}},
           "x2": {"datum": 0.0040},
           "y": {"field": "series", "type": "nominal", "scale": {"type": "point", "domain": ["con hulg G1","AL002"], "range": [9.7,28], "padding": 0}, "axis": null},
           "stroke": {"field": "series", "type": "nominal", "scale": {"domain": ["con hulg G1","AL002"], "range": ["#000000","#62c552"]}, "legend": null}}},
        {"mark": {"type": "point", "filled": true, "opacity": 1, "size": 24},
         "encoding": {
           "x": {"datum": 0.00309, "type": "quantitative", "scale": {"type": "log", "domain": [0.001,1000], "range": [49.3,385], "nice": false}},
           "y": {"field": "series", "type": "nominal", "scale": {"type": "point", "domain": ["con hulg G1","AL002"], "range": [9.7,28], "padding": 0}, "axis": null},
           "shape": {"field": "series", "type": "nominal", "scale": {"domain": ["con hulg G1","AL002"], "range": ["circle","triangle-up"]}, "legend": null},
           "fill": {"field": "series", "type": "nominal", "scale": {"domain": ["con hulg G1","AL002"], "range": ["#000000","#1f9f1f"]}, "legend": null}}},
        {"mark": {"type": "text", "fontSize": 10.5, "align": "left", "baseline": "middle"},
         "encoding": {
           "x": {"datum": 0.00453, "type": "quantitative", "scale": {"type": "log", "domain": [0.001,1000], "range": [49.3,385], "nice": false}},
           "y": {"field": "series", "type": "nominal", "scale": {"type": "point", "domain": ["con hulg G1","AL002"], "range": [9.7,28], "padding": 0}, "axis": null},
           "text": {"field": "series"}}}
       ]}
    ]
  },
  {
    "width": 361.3, "height": 168,
    "title": {"text": "macrophages, donor 2", "anchor": "middle", "frame": "group", "dx": 7.35, "offset": 1, "fontSize": 13},
    "resolve": {"scale": {"y": "independent"}, "axis": {"x": "independent"}},
    "layer": [
      {"layer": [
        {"data": {"name": "f2fit"}, "mark": {"type": "line", "strokeWidth": 1.1},
         "encoding": {
           "x": {"field": "conc", "type": "quantitative", "scale": {"type": "log", "domain": [0.001,1000], "range": [29.7,361.3], "nice": false},
                 "axis": {"orient": "bottom", "values": [0.01,0.1,1,10,100,1000], "tickCount": 100, "format": "~g", "labelFontSize": 8, "labelFontWeight": "bold", "tickSize": 3, "labelPadding": 1, "title": "Plate bound mAb (nM)", "titleFontSize": 13.5, "titlePadding": 7}},
           "y": {"field": "lum", "type": "quantitative", "scale": {"domain": [-20000,120000], "range": [196,-0.4], "nice": false, "zero": false},
                 "axis": {"orient": "left", "offset": -29.7, "values": [-20000,0,20000,40000,60000,80000,100000,120000], "tickCount": 100, "format": "d", "labelFontSize": 8, "labelFontWeight": "bold", "tickSize": 3, "labelPadding": 2, "title": null}},
           "stroke": {"field": "series", "type": "nominal", "scale": {"domain": ["con hulg G1","AL002"], "range": ["#000000","#62c552"]}, "legend": null}}},
        {"data": {"name": "f2pts"}, "mark": {"type": "point", "filled": true, "opacity": 1, "size": 24},
         "encoding": {
           "x": {"field": "conc", "type": "quantitative", "scale": {"type": "log", "domain": [0.001,1000], "range": [29.7,361.3], "nice": false}},
           "y": {"field": "lum", "type": "quantitative", "scale": {"domain": [-20000,120000], "range": [196,-0.4], "nice": false, "zero": false}},
           "shape": {"field": "series", "type": "nominal", "scale": {"domain": ["con hulg G1","AL002"], "range": ["circle","triangle-up"]}, "legend": null},
           "fill": {"field": "series", "type": "nominal", "scale": {"domain": ["con hulg G1","AL002"], "range": ["#000000","#1f9f1f"]}, "legend": null}}},
        {"data": {"values": [{}]}, "mark": {"type": "text", "text": "EC50= 0.47 nM", "fontSize": 13, "align": "left", "baseline": "middle"},
         "encoding": {
           "x": {"datum": 1.327, "type": "quantitative", "scale": {"type": "log", "domain": [0.001,1000], "range": [29.7,361.3], "nice": false}},
           "y": {"datum": 65500, "type": "quantitative", "scale": {"domain": [-20000,120000], "range": [196,-0.4], "nice": false, "zero": false}}}}
      ]},
      {"data": {"name": "seriesLegend"},
       "layer": [
        {"mark": {"type": "rule", "strokeWidth": 1.1},
         "encoding": {
           "x": {"datum": 0.00213, "type": "quantitative", "scale": {"type": "log", "domain": [0.001,1000], "range": [29.7,361.3], "nice": false},
                 "axis": {"orient": "bottom", "values": [0.002,0.003,0.004,0.005,0.006,0.007,0.008,0.009,0.02,0.03,0.04,0.05,0.06,0.07,0.08,0.09,0.2,0.3,0.4,0.5,0.6,0.7,0.8,0.9,2,3,4,5,6,7,8,9,20,30,40,50,60,70,80,90,200,300,400,500,600,700,800,900], "tickCount": 100, "labels": false, "domain": false, "tickSize": 1.5, "title": null}},
           "x2": {"datum": 0.00369},
           "y": {"field": "series", "type": "nominal", "scale": {"type": "point", "domain": ["con hulg G1","AL002"], "range": [10.7,28], "padding": 0}, "axis": null},
           "stroke": {"field": "series", "type": "nominal", "scale": {"domain": ["con hulg G1","AL002"], "range": ["#000000","#62c552"]}, "legend": null}}},
        {"mark": {"type": "point", "filled": true, "opacity": 1, "size": 24},
         "encoding": {
           "x": {"datum": 0.00283, "type": "quantitative", "scale": {"type": "log", "domain": [0.001,1000], "range": [29.7,361.3], "nice": false}},
           "y": {"field": "series", "type": "nominal", "scale": {"type": "point", "domain": ["con hulg G1","AL002"], "range": [10.7,28], "padding": 0}, "axis": null},
           "shape": {"field": "series", "type": "nominal", "scale": {"domain": ["con hulg G1","AL002"], "range": ["circle","triangle-up"]}, "legend": null},
           "fill": {"field": "series", "type": "nominal", "scale": {"domain": ["con hulg G1","AL002"], "range": ["#000000","#1f9f1f"]}, "legend": null}}},
        {"mark": {"type": "text", "fontSize": 10.5, "align": "left", "baseline": "middle"},
         "encoding": {
           "x": {"datum": 0.00459, "type": "quantitative", "scale": {"type": "log", "domain": [0.001,1000], "range": [29.7,361.3], "nice": false}},
           "y": {"field": "series", "type": "nominal", "scale": {"type": "point", "domain": ["con hulg G1","AL002"], "range": [10.7,28], "padding": 0}, "axis": null},
           "text": {"field": "series"}}}
       ]}
    ]
  }
]
}
